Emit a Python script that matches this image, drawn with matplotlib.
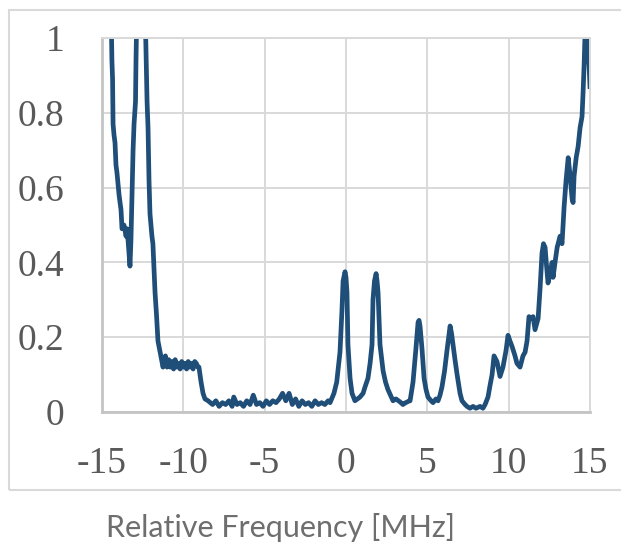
import matplotlib
matplotlib.use("Agg")
import matplotlib.pyplot as plt
from matplotlib.patches import Rectangle

# ---- data ----
freq_left = [-14.45, -14.39, -14.35, -14.32, -14.26, -14.20, -14.14, -14.08, -13.95, -13.83,
             -13.77, -13.65, -13.52, -13.46, -13.40, -13.28, -13.22, -13.16, -13.09, -13.03,
             -12.97, -12.94, -12.91, -12.85, -12.60, -12.36, -12.26, -12.23, -12.17, -12.11,
             -12.05, -11.99, -11.93, -11.87, -11.80, -11.74, -11.65, -11.56, -11.43, -11.34, -11.25]
sig_left = [1.10, 0.94, 0.89, 0.77, 0.74, 0.72, 0.66, 0.64, 0.58, 0.54,
            0.49, 0.50, 0.47, 0.49, 0.46, 0.39, 0.46, 0.57, 0.70, 0.77,
            0.81, 0.83, 0.94, 1.10, 1.30, 1.10, 0.90, 0.83, 0.76, 0.62,
            0.53, 0.50, 0.47, 0.45, 0.38, 0.32, 0.26, 0.19, 0.16, 0.14, 0.12]

freq_shelf = [-11.2, -11.1, -11.0, -10.9, -10.8, -10.7, -10.6, -10.5, -10.4, -10.3, -10.2,
              -10.1, -10.0, -9.9, -9.8, -9.7, -9.6, -9.5, -9.4, -9.3, -9.2, -9.1,
              -9.04, -8.91, -8.79, -8.67, -8.48]
sig_shelf = [0.13, 0.15, 0.12, 0.14, 0.12, 0.135, 0.115, 0.14, 0.12, 0.13, 0.115,
             0.135, 0.12, 0.13, 0.115, 0.135, 0.12, 0.13, 0.115, 0.135, 0.13, 0.12,
             0.12, 0.08, 0.05, 0.035, 0.03]

freq_floor = [-8.2, -8.0, -7.8, -7.6, -7.4, -7.2, -7.0, -6.9, -6.7, -6.5, -6.3, -6.1, -5.9,
              -5.7, -5.5, -5.3, -5.1, -4.9, -4.7, -4.5, -4.3, -4.1, -3.9, -3.7, -3.5, -3.3,
              -3.1, -2.9, -2.7, -2.5, -2.3, -2.1, -1.9, -1.7, -1.5, -1.3, -1.1]
sig_floor = [0.02, 0.03, 0.015, 0.025, 0.02, 0.03, 0.015, 0.04, 0.02, 0.025, 0.015, 0.03, 0.02,
             0.045, 0.02, 0.025, 0.015, 0.03, 0.02, 0.03, 0.025, 0.035, 0.05, 0.03, 0.05, 0.02,
             0.035, 0.015, 0.03, 0.02, 0.025, 0.015, 0.03, 0.02, 0.025, 0.02, 0.03]

freq_peaks = [-0.98, -0.74, -0.57, -0.37, -0.25, -0.18, -0.06, 0.00, 0.06, 0.12, 0.25, 0.37,
              0.55, 0.71, 0.86, 1.05, 1.17, 1.35, 1.48, 1.60, 1.66, 1.75, 1.85, 1.91, 1.97,
              2.09, 2.28, 2.43, 2.58, 2.89, 3.07, 3.32, 3.50, 3.63, 3.81, 3.94, 4.12, 4.30,
              4.43, 4.49, 4.55, 4.67, 4.80, 4.92, 5.04, 5.23, 5.35, 5.53, 5.66, 5.78, 5.90,
              6.06, 6.21, 6.40, 6.49, 6.58, 6.70, 6.83, 7.01, 7.13, 7.32, 7.44, 7.62, 7.81,
              7.99, 8.24, 8.42, 8.55, 8.73]
sig_peaks = [0.025, 0.05, 0.08, 0.16, 0.27, 0.35, 0.375, 0.36, 0.32, 0.18, 0.09, 0.05,
             0.03, 0.035, 0.04, 0.05, 0.067, 0.09, 0.13, 0.18, 0.30, 0.35, 0.37, 0.35, 0.32,
             0.18, 0.11, 0.08, 0.06, 0.03, 0.035, 0.027, 0.02, 0.024, 0.028, 0.03, 0.08, 0.17,
             0.24, 0.245, 0.23, 0.17, 0.09, 0.06, 0.04, 0.03, 0.025, 0.035, 0.03, 0.045, 0.067,
             0.11, 0.165, 0.23, 0.21, 0.18, 0.14, 0.10, 0.05, 0.03, 0.02, 0.015, 0.01, 0.015,
             0.01, 0.015, 0.01, 0.02, 0.04]

freq_right = [8.85, 8.98, 9.10, 9.28, 9.47, 9.65, 9.84, 9.96, 10.08, 10.21, 10.39, 10.51,
              10.70, 10.88, 11.01, 11.13, 11.25, 11.38, 11.50, 11.62, 11.81, 11.93, 12.05,
              12.14, 12.24, 12.33, 12.42, 12.55, 12.67, 12.73, 12.85, 12.98, 13.16, 13.28,
              13.41, 13.53, 13.66, 13.78, 13.90, 13.96, 14.02, 14.15, 14.27, 14.39, 14.51,
              14.58, 14.64, 14.70, 14.79, 14.85, 14.94, 15.00]
sig_right = [0.07, 0.10, 0.15, 0.135, 0.095, 0.12, 0.165, 0.205, 0.19, 0.175, 0.15, 0.13,
             0.12, 0.15, 0.16, 0.19, 0.255, 0.25, 0.255, 0.22, 0.25, 0.33, 0.425,
             0.45, 0.44, 0.39, 0.345, 0.37, 0.40, 0.36, 0.40, 0.44, 0.47, 0.45,
             0.55, 0.62, 0.68, 0.63, 0.57, 0.56, 0.63, 0.68, 0.71, 0.76, 0.79,
             0.86, 0.93, 1.02, 1.05, 0.95, 0.93, 0.87]

x_ticks = [-15, -10, -5, 0, 5, 10, 15]
x_ticklabels = ["-15", "-10", "-5", "0", "5", "10", "15"]
y_ticks = [0, 0.2, 0.4, 0.6, 0.8, 1.0]
y_ticklabels = ["0", "0.2", "0.4", "0.6", "0.8", "1"]
x_title = "Relative Frequency [MHz]"

freq = freq_left + freq_shelf + freq_floor + freq_peaks + freq_right
signal = sig_left + sig_shelf + sig_floor + sig_peaks + sig_right

# ---- figure ----
fig = plt.figure(figsize=(6.21, 5.45), dpi=100)
fig.patch.set_facecolor("white")

# outer chart-area border
fig.patches.append(Rectangle((9 / 621, 55 / 545), 1.2, 480 / 545,
                             transform=fig.transFigure, fill=False,
                             edgecolor="#d9d9d9", linewidth=1.5))

ax = fig.add_axes([102 / 621, 133 / 545, 488 / 621, 374 / 545])
ax.plot(freq, signal, color="#1f4e79", linewidth=3.4, solid_joinstyle="round")
ax.set_xlim(-15, 15)
ax.set_ylim(0, 1)

ax.set_xticks(x_ticks)
ax.set_xticklabels(x_ticklabels)
ax.set_yticks(y_ticks)
ax.set_yticklabels(y_ticklabels)
ax.tick_params(length=0, labelsize=27, colors="#595959", labelcolor="#595959")
ax.tick_params(axis="x", pad=25)
ax.tick_params(axis="y", pad=27)
for lab in ax.get_xticklabels() + ax.get_yticklabels():
    lab.set_fontfamily("Liberation Serif")

ax.grid(True, color="#d9d9d9", linewidth=1.4)
ax.set_axisbelow(True)
for side in ["top", "right"]:
    ax.spines[side].set_color("#d9d9d9")
    ax.spines[side].set_linewidth(1.4)
for side in ["left", "bottom"]:
    ax.spines[side].set_color("#c4c4c4")
    ax.spines[side].set_linewidth(2.0)

fig.text(280 / 621, 18 / 545, x_title, ha="center", va="center",
         fontsize=22, color="#6e6e6e", family="Lato", fontweight="normal")

fig.savefig("out.png", dpi=100)
